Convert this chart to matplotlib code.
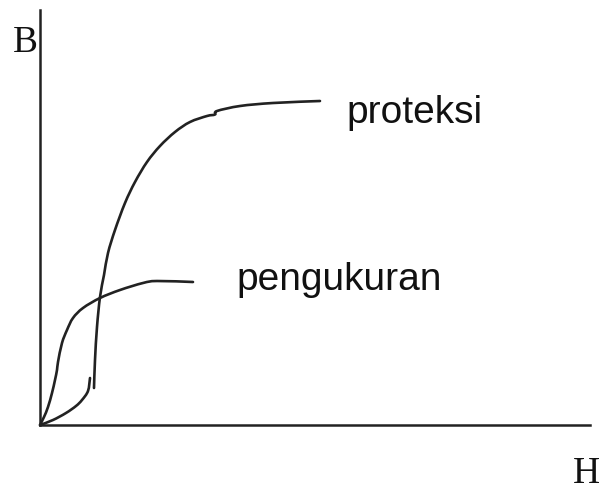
import matplotlib
matplotlib.use("Agg")
import matplotlib.pyplot as plt
from matplotlib.path import Path
from matplotlib.patches import PathPatch

# Data (arbitrary units, H horizontal, B vertical)
peng_H = [0, 0.4, 0.8, 1.2, 1.5, 1.7, 1.8, 2.2, 2.7, 3.3, 4.3, 6.0, 8.0, 10.3, 11.7, 15.3]
peng_B = [0, 0.8, 1.8, 3.2, 4.5, 5.5, 6.3, 8.2, 9.5, 10.7, 11.7, 12.7, 13.5, 14.2, 14.4, 14.3]

prot_low_H = [0, 1.3, 2.6, 3.6, 4.2, 4.8, 5.0]
prot_low_B = [0, 0.5, 1.2, 1.9, 2.5, 3.4, 4.7]

prot_H = [5.4, 5.5, 5.7, 6.0, 6.4, 6.8, 7.5, 8.5, 9.5, 10.7, 12.0, 13.5,
          15.0, 16.7, 17.5, 17.7, 20.0, 23.3, 28.0]
prot_B = [3.7, 6.5, 9.8, 12.8, 15.0, 17.2, 19.5, 22.2, 24.3, 26.3, 27.9, 29.3,
          30.3, 30.9, 31.05, 31.4, 31.9, 32.2, 32.4]

labels = ["proteksi", "pengukuran"]
axis_labels = ["B", "H"]


def smooth_path(xs, ys):
    """Catmull-Rom curve through the given points, as cubic Bezier path."""
    pts = list(zip(xs, ys))
    n = len(pts)
    verts = [pts[0]]
    codes = [Path.MOVETO]
    for i in range(n - 1):
        p0 = pts[i - 1] if i > 0 else pts[i]
        p1 = pts[i]
        p2 = pts[i + 1]
        p3 = pts[i + 2] if i + 2 < n else pts[i + 1]
        c1 = (p1[0] + (p2[0] - p0[0]) / 6, p1[1] + (p2[1] - p0[1]) / 6)
        c2 = (p2[0] - (p3[0] - p1[0]) / 6, p2[1] - (p3[1] - p1[1]) / 6)
        verts += [c1, c2, p2]
        codes += [Path.CURVE4] * 3
    return Path(verts, codes)


fig = plt.figure(figsize=(6.03, 4.90), dpi=100)
ax = fig.add_axes([40 / 603, (490 - 425) / 490, (590 - 40) / 603, (425 - 10) / 490])
ax.set_xlim(0, 55)
ax.set_ylim(0, 41.5)
for s in ["top", "right"]:
    ax.spines[s].set_visible(False)
for s in ["left", "bottom"]:
    ax.spines[s].set_linewidth(1.8)
    ax.spines[s].set_color("#222222")
ax.set_xticks([])
ax.set_yticks([])

lc = "#222222"
lw = 1.9
for xs, ys in [(peng_H, peng_B), (prot_low_H, prot_low_B), (prot_H, prot_B)]:
    patch = PathPatch(smooth_path(xs, ys), facecolor="none", edgecolor=lc,
                      lw=lw, capstyle="round", joinstyle="round", clip_on=False)
    ax.add_patch(patch)

ax.text(30.6, 30.2, labels[0], fontsize=28, family="Liberation Sans",
        ha="left", va="baseline", color="#111111")
ax.text(19.6, 13.5, labels[1], fontsize=28, family="Liberation Sans",
        ha="left", va="baseline", color="#111111")

ax.text(-1.5, 38.2, axis_labels[0], fontsize=27, family="Liberation Serif",
        ha="center", va="center", color="#111111", clip_on=False)
ax.text(54.6, -4.9, axis_labels[1], fontsize=27, family="Liberation Serif",
        ha="center", va="center", color="#111111", clip_on=False)

fig.savefig("out.png", dpi=100)
